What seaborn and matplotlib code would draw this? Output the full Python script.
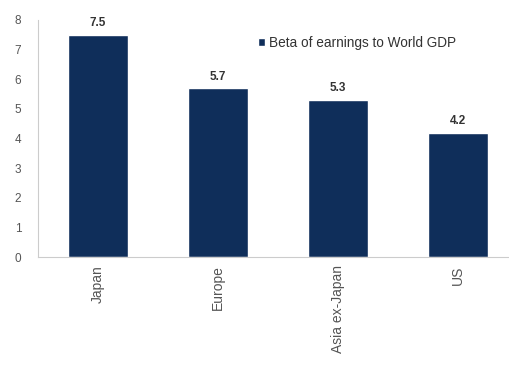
import matplotlib
matplotlib.use("Agg")
import matplotlib.pyplot as plt
import seaborn as sns
import pandas as pd

categories = ["Japan", "Europe", "Asia ex-Japan", "US"]
values = [7.5, 5.7, 5.3, 4.2]
series_name = "Beta of earnings to World GDP"
yticks = [0, 1, 2, 3, 4, 5, 6, 7, 8]

sns.set_theme(style="white")
plt.rcParams['font.family'] = ['Liberation Sans', 'DejaVu Sans']

df = pd.DataFrame({"region": categories, "beta": values})

fig = plt.figure(figsize=(5.10, 3.65), dpi=100)
ax = fig.add_axes([38/510, 1 - 257/365, 1 - 38/510, (257 - 20)/365])

sns.barplot(data=df, x="region", y="beta", color="#0F2E5A", width=0.5,
            saturation=1, ax=ax, label=series_name)

ax.set_xlim(-0.5, 3.43)
ax.set_ylim(0, 8)
ax.set_yticks(yticks)
ax.set_yticklabels([str(t) for t in yticks], fontsize=8.5, color="#555555")
ax.set_xticks(range(len(categories)))
ax.set_xticklabels(categories, rotation=90, fontsize=10, color="#555555")
ax.tick_params(axis="x", length=0, pad=6)
ax.tick_params(axis="y", length=3, width=0.6, color="#cccccc", pad=9)
ax.set_xlabel("")
ax.set_ylabel("")

for s in ["top", "right"]:
    ax.spines[s].set_visible(False)
for s in ["left", "bottom"]:
    ax.spines[s].set_color("#cccccc")
    ax.spines[s].set_linewidth(0.8)

for cont in ax.containers:
    ax.bar_label(cont, labels=[f"{v:.1f}" for v in values], padding=4,
                 fontsize=8.5, fontweight="bold", color="#333333")

leg = ax.legend(loc="upper left", bbox_to_anchor=(0.44, 0.985), frameon=False,
                fontsize=9.8, handlelength=0.55, handleheight=0.55,
                handletextpad=0.3, labelcolor="#333333")

fig.savefig("out.png", dpi=100)
